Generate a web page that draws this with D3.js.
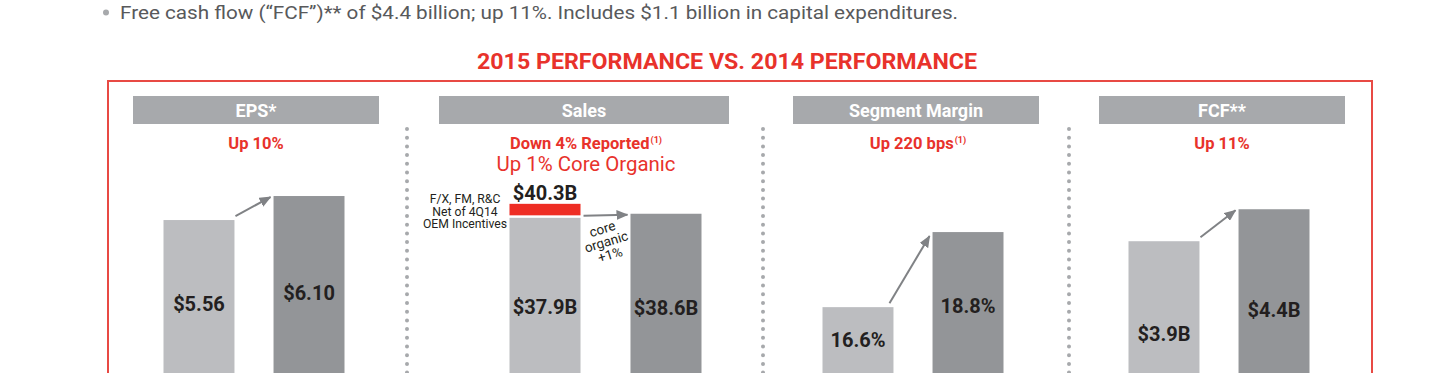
<!DOCTYPE html>
<html>
<head>
<meta charset="utf-8">
<script src="https://cdn.jsdelivr.net/npm/d3@7"></script>
<style>
  html, body { margin: 0; padding: 0; background: #ffffff; }
  svg { display: block; }
  text { font-family: Roboto, "Noto Sans", "DejaVu Sans", sans-serif; }
</style>
</head>
<body>
<svg id="chart" width="1440" height="373"></svg>
<script>
// ---------- data ----------
const bulletText = "Free cash flow (\u201CFCF\u201D)** of $4.4 billion; up 11%. Includes $1.1 billion in capital expenditures.";
const chartTitle = "2015 PERFORMANCE VS. 2014 PERFORMANCE";
const panels = ["EPS*", "Sales", "Segment Margin", "FCF**"];
const years = ["2014", "2015"];
const values2014 = [5.56, 37.9, 16.6, 3.9];
const values2015 = [6.10, 38.6, 18.8, 4.4];
const labels2014 = ["$5.56", "$37.9B", "16.6%", "$3.9B"];
const labels2015 = ["$6.10", "$38.6B", "18.8%", "$4.4B"];
const headlines = ["Up 10%", "Down 4% Reported", "Up 220 bps", "Up 11%"];
const headlineNotes = ["", "(1)", "(1)", ""];
const salesSubline = "Up 1% Core Organic";
const salesReported2014 = 40.3;
const salesReportedLabel = "$40.3B";
const salesAdjNote = ["F/X, FM, R&C", "Net of 4Q14", "OEM Incentives"];
const salesArrowNote = ["core", "organic", "+1%"];
const scaleFloor = [2.12, 11.3, 14.67, 1.84];
const scaleCeil = [7.63, 53.3, 21.85, 5.67];

// ---------- layout ----------
const svg = d3.select("#chart");
const RED = "#e8322b";
const FRAME_RED = "#e84a44";
const HEADER_GREY = "#a7a9ac";
const LIGHT_BAR = "#bcbdc0";
const DARK_BAR = "#939598";
const INK = "#231f20";
const ARROW = "#808285";

const headerX = [[133, 379], [439, 729], [793, 1039], [1099, 1345]];
const barCenter = [254, 605.5, 913, 1219];
const barHalfSpan = [90.5, 96, 90.5, 90.5];
const barPadding = [0.355, 0.413, 0.355, 0.355];
const separators = [407, 763, 1069];
const labelOffsets = [[91, 104], [96, 101], [40, 81], [100, 108]];

function fit(sel, w) {
  const n = sel.node();
  const L = n.getComputedTextLength();
  if (Math.abs(L - w) / w > 0.015) {
    sel.attr("textLength", w).attr("lengthAdjust", "spacingAndGlyphs");
  }
  return sel;
}

// bullet line
svg.append("circle").attr("cx", 106).attr("cy", 12.5).attr("r", 3).attr("fill", "#a7a9ac");
fit(svg.append("text").attr("x", 120).attr("y", 19).attr("font-size", 19)
  .attr("fill", "#58595b").text(bulletText), 838);

// title
fit(svg.append("text").attr("x", 727).attr("y", 69).attr("text-anchor", "middle")
  .attr("font-size", 22).attr("font-weight", 700).attr("fill", RED).text(chartTitle), 500);

// frame
svg.append("rect").attr("x", 108).attr("y", 81).attr("width", 1264).attr("height", 400)
  .attr("fill", "none").attr("stroke", FRAME_RED).attr("stroke-width", 2);

// separators (dotted)
separators.forEach(x => {
  svg.append("line").attr("x1", x).attr("x2", x).attr("y1", 129).attr("y2", 380)
    .attr("stroke", HEADER_GREY).attr("stroke-width", 4)
    .attr("stroke-linecap", "round").attr("stroke-dasharray", "0 8.7");
});

// arrow marker
const defs = svg.append("defs");
defs.append("marker").attr("id", "ah").attr("viewBox", "0 0 12 10")
  .attr("refX", 11).attr("refY", 5).attr("markerWidth", 12).attr("markerHeight", 10)
  .attr("markerUnits", "userSpaceOnUse").attr("orient", "auto")
  .append("path").attr("d", "M0,0 L12,5 L0,10 Z").attr("fill", ARROW);

const BOTTOM = 373, TOP = 128;

panels.forEach((name, i) => {
  const [hx0, hx1] = headerX[i];
  const hc = (hx0 + hx1) / 2;
  // header
  svg.append("rect").attr("x", hx0).attr("y", 96).attr("width", hx1 - hx0).attr("height", 28)
    .attr("fill", HEADER_GREY);
  svg.append("text").attr("x", hc).attr("y", 117).attr("text-anchor", "middle")
    .attr("font-size", 18).attr("font-weight", 700).attr("fill", "#ffffff").text(name);

  // headline
  const hl = svg.append("text").attr("x", hc + (headlineNotes[i] ? 2 : 0)).attr("y", 148.5)
    .attr("text-anchor", "middle").attr("font-weight", 700).attr("fill", RED).attr("font-size", 16.5);
  hl.append("tspan").text(headlines[i]);
  if (headlineNotes[i]) {
    hl.append("tspan").attr("font-size", 9).attr("dy", -6).attr("dx", 1).text(headlineNotes[i]);
  }

  // scales
  const y = d3.scaleLinear().domain([scaleFloor[i], scaleCeil[i]]).range([BOTTOM, TOP]);
  const x = d3.scaleBand().domain(years)
    .range([barCenter[i] - barHalfSpan[i], barCenter[i] + barHalfSpan[i]])
    .paddingInner(barPadding[i]).paddingOuter(0);

  const vals = [values2014[i], values2015[i]];
  const labs = [labels2014[i], labels2015[i]];
  const cols = [LIGHT_BAR, DARK_BAR];

  years.forEach((yr, j) => {
    svg.append("rect").attr("x", x(yr)).attr("y", y(vals[j]))
      .attr("width", x.bandwidth()).attr("height", BOTTOM + 10 - y(vals[j]))
      .attr("fill", cols[j]);
    svg.append("text").attr("x", x(yr) + x.bandwidth() / 2)
      .attr("y", y(vals[j]) + labelOffsets[i][j])
      .attr("text-anchor", "middle").attr("font-size", 20).attr("font-weight", 700)
      .attr("fill", INK).text(labs[j]);
  });

  // arrow from 2014 to 2015
  const x1 = x("2014") + x.bandwidth() + (i === 2 ? -4 : (i === 1 ? 3 : 1));
  const y1 = y(vals[0]) - (i === 1 ? 2 : 4);
  const x2 = x("2015") - 3;
  const y2 = y(vals[1]) + (i === 2 ? 4 : 1);
  svg.append("line").attr("x1", x1).attr("y1", y1).attr("x2", x2).attr("y2", y2)
    .attr("stroke", ARROW).attr("stroke-width", 2).attr("marker-end", "url(#ah)");

  if (i === 1) {
    // second headline line
    fit(svg.append("text").attr("x", hc + 2).attr("y", 171).attr("text-anchor", "middle")
      .attr("font-size", 20).attr("fill", RED).text(salesSubline), 179);
    // reported (red) segment on top of 2014 bar
    const bx = x("2014");
    svg.append("rect").attr("x", bx).attr("y", y(salesReported2014))
      .attr("width", x.bandwidth()).attr("height", y(values2014[i]) - y(salesReported2014) - 2.5)
      .attr("fill", "#ee2d24");
    svg.append("text").attr("x", bx + x.bandwidth() / 2).attr("y", y(salesReported2014) - 4)
      .attr("text-anchor", "middle").attr("font-size", 20).attr("font-weight", 700)
      .attr("fill", INK).text(salesReportedLabel);
    // adjustments note
    const nt = svg.append("text").attr("text-anchor", "middle")
      .attr("font-size", 12.2).attr("fill", INK);
    salesAdjNote.forEach((t, k) => {
      nt.append("tspan").attr("x", 465).attr("y", 203 + k * 12.6).text(t);
    });
    // rotated core organic note
    const cg = svg.append("g").attr("transform", "translate(606,241) rotate(-17)");
    salesArrowNote.forEach((t, k) => {
      cg.append("text").attr("x", 0).attr("y", -8 + k * 13.5).attr("text-anchor", "middle")
        .attr("font-size", 13.5).attr("fill", INK).text(t);
    });
  }
});
</script>
</body>
</html>
